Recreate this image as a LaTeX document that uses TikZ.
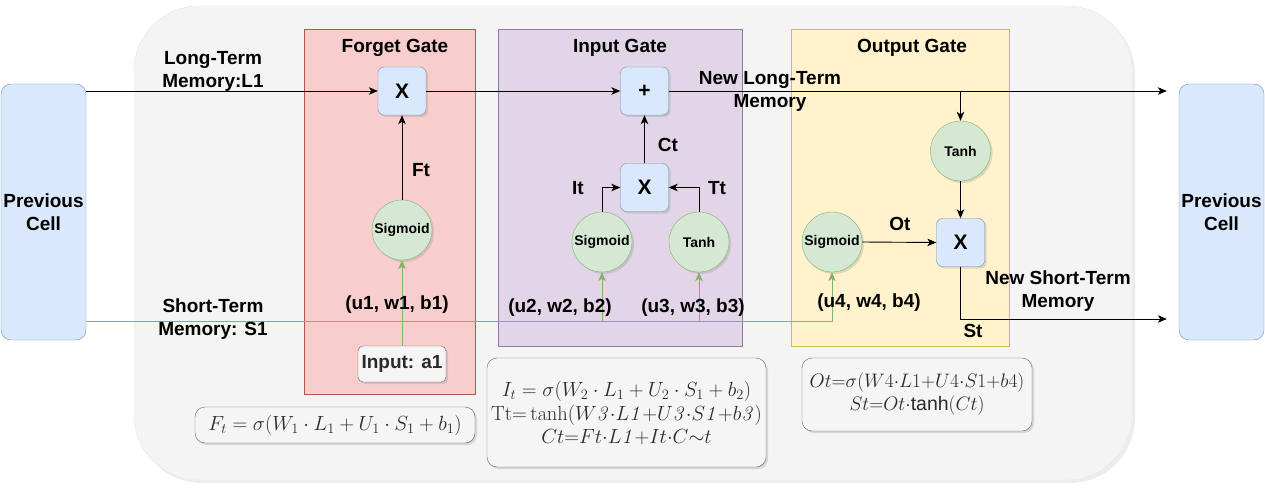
\RequirePackage{fix-cm}
\documentclass[tikz,border=0pt]{standalone}
\usepackage{amsmath}
\usepackage[no-math]{fontspec}
\setmainfont{Liberation Sans}
\usetikzlibrary{arrows.meta,shadows}
\definecolor{cellfill}{HTML}{DAE8FC}
\definecolor{celldraw}{HTML}{6C8EBF}
\definecolor{grayfill}{HTML}{F4F4F4}
\definecolor{graydraw}{HTML}{E6E6E6}
\definecolor{redfill}{HTML}{F8CECC}
\definecolor{reddraw}{HTML}{B85450}
\definecolor{purfill}{HTML}{E1D5E7}
\definecolor{purdraw}{HTML}{9673A6}
\definecolor{yelfill}{HTML}{FFF2CC}
\definecolor{yeldraw}{HTML}{D6B656}
\definecolor{grnfill}{HTML}{D5E8D4}
\definecolor{grndraw}{HTML}{82B366}
\definecolor{boxfill}{HTML}{F5F5F5}
\definecolor{boxdraw}{HTML}{666666}
\definecolor{boxtext}{HTML}{2A2A2A}
\newcommand\lblfont{\fontsize{19}{23}\selectfont\bfseries}
\newcommand\smlfont{\fontsize{14}{16}\selectfont\bfseries}
\newcommand\mathfont{\fontsize{20.5}{23}\selectfont}
\tikzset{
  shad/.style={drop shadow={opacity=0.25,shadow xshift=2pt,shadow yshift=-2pt}},
  cellbox/.style={draw=celldraw,fill=cellfill,rounded corners=10pt,minimum width=85pt,minimum height=256pt,align=center,font=\lblfont,inner sep=0pt},
  opbox/.style={draw=celldraw,fill=cellfill,rounded corners=6pt,minimum width=48pt,minimum height=48pt,font=\fontsize{21}{21}\selectfont\bfseries,inner sep=0pt,shad},
  circ/.style={circle,draw=grndraw,fill=grnfill,minimum size=60pt,font=\smlfont,inner sep=0pt,shad},
  fbox/.style={draw=boxdraw,fill=boxfill,rounded corners=10pt,text=boxtext,align=center,inner sep=0pt,font=\mathfont,shad},
  lbl/.style={font=\lblfont,align=center,inner sep=0pt},
  gate/.style={line width=0.8pt},
  arr/.style={draw=black,line width=0.9pt,-{Stealth[length=9pt,width=7.5pt,inset=2.5pt]}},
  garr/.style={draw=grndraw,line width=0.9pt,-{Stealth[length=9pt,width=7.5pt,inset=2.5pt]}},
}
\begin{document}
\begin{tikzpicture}[x=1pt,y=-1pt]
\useasboundingbox (0,0) rectangle (1265,489);
% background
\fill[gray!40,opacity=0.35,rounded corners=65pt] (137,9) rectangle (1135,483);
\draw[draw=graydraw,fill=grayfill,rounded corners=65pt] (134,6) rectangle (1132,480);
% gates
\draw[gate,draw=reddraw,fill=redfill] (304,29) rectangle (475,394);
\draw[gate,draw=purdraw,fill=purfill] (498,29) rectangle (742,346);
\draw[gate,draw=yeldraw,fill=yelfill] (791,29) rectangle (1009,346);
\node[lbl] (tF) at (395,48) {Forget Gate};
\node[lbl] (tI) at (620,48) {Input Gate};
\node[lbl] (tO) at (912,48) {Output Gate};
% cells
\node[cellbox] (prevL) at (43.5,212) {Previous\\Cell};
\node[cellbox] (prevR) at (1221.5,212) {Previous\\Cell};
% operators
\node[opbox] (fx) at (402,91) {X};
\node[opbox] (plus) at (644.5,91) {+};
\node[opbox] (xI) at (644.5,187.5) {X};
\node[opbox] (xO) at (960.5,242.5) {X};
% circles
\node[circ] (sigF) at (402,230) {Sigmoid};
\node[circ] (sigI) at (602,242) {Sigmoid};
\node[circ] (tanhI) at (699,242) {Tanh};
\node[circ] (tanhO) at (960.5,151) {Tanh};
\node[circ] (sigO) at (832,242) {Sigmoid};
% input
\node[draw=boxdraw,fill=boxfill,rounded corners=5pt,text=boxtext,font=\lblfont,minimum width=88pt,minimum height=36pt,inner sep=0pt,shad] (inA) at (402,364) {Input: a1};
% formula boxes
\node[fbox,minimum width=280pt,minimum height=36pt] (f1) at (335,425)
  {$F_t=\sigma(W_1\cdot L_1+U_1\cdot S_1+b_1)$};
\node[fbox,minimum width=279pt,minimum height=109pt] (f2) at (626.5,412.5)
  {$I_t=\sigma(W_2\cdot L_1+U_2\cdot S_1+b_2)$\\[1pt]
   $\mathrm{Tt}{=}\tanh(W\mathit{3}{\cdot}L\mathit{1}{+}U\mathit{3}{\cdot}S\mathit{1}{+}b\mathit{3})$\\[0pt]
   $Ct{=}Ft{\cdot}L\mathit{1}{+}It{\cdot}C{\sim}t$};
\node[fbox,minimum width=230pt,minimum height=73pt,font=\fontsize{19.5}{23}\selectfont] (f3) at (917,394.5)
  {$Ot{=}\sigma(W4{\cdot}L1{+}U4{\cdot}S1{+}b4)$\\[0pt]
   $St{=}Ot{\cdot}\text{tanh}(Ct)$};
% coordinates
\coordinate (sY) at (0,321);
\coordinate (stY) at (0,319);
% long-term path
\draw[arr] (prevL.east |- fx.west) -- (fx.west);
\draw[arr] (fx.east) -- (plus.west);
\draw[arr,shorten >=12pt] (plus.east) -- (prevR.west |- plus.east);
\draw[arr] (tanhO.north |- plus.east) -- (tanhO.north);
% forget gate
\draw[arr] (sigF.north) -- (fx.south);
\draw[garr] (inA.north) -- (sigF.south);
% input gate
\draw[arr] (sigI.north) |- (xI.west);
\draw[arr] (tanhI.north) |- (xI.east);
\draw[arr] (xI.north) -- (plus.south);
% output gate
\draw[arr] (tanhO.south) -- (xO.north);
\draw[arr] (sigO.east) -- (xO.west);
\draw[arr,shorten >=12pt] (xO.south) |- (prevR.west |- stY);
% short-term path
\draw[garr] (prevL.east |- sY) -| (sigO.south);
\draw[garr] (sigI.south |- sY) -- (sigI.south);
\draw[garr] (tanhI.south |- sY) -- (tanhI.south);
% labels
\node[lbl] (lLT) at (213,71.5) {Long-Term\\Memory:L1};
\node[lbl] (lST) at (213,319) {Short-Term\\Memory: S1};
\node[lbl] (lNLT) at (770,91) {New Long-Term\\Memory};
\node[lbl] (lNST) at (1058,291) {New Short-Term\\Memory};
\node[lbl] (lFt) at (421,170) {Ft};
\node[lbl] (lCt) at (668,145) {Ct};
\node[lbl] (lIt) at (578,188) {It};
\node[lbl] (lTt) at (717,188) {Tt};
\node[lbl] (lOt) at (900,224) {Ot};
\node[lbl] (lSt) at (973,331) {St};
\node[lbl] (p1) at (397,305) {(u1, w1, b1)};
\node[lbl] (p2) at (560,308) {(u2, w2, b2)};
\node[lbl] (p3) at (693,308) {(u3, w3, b3)};
\node[lbl] (p4) at (869,303) {(u4, w4, b4)};
\end{tikzpicture}
\end{document}
